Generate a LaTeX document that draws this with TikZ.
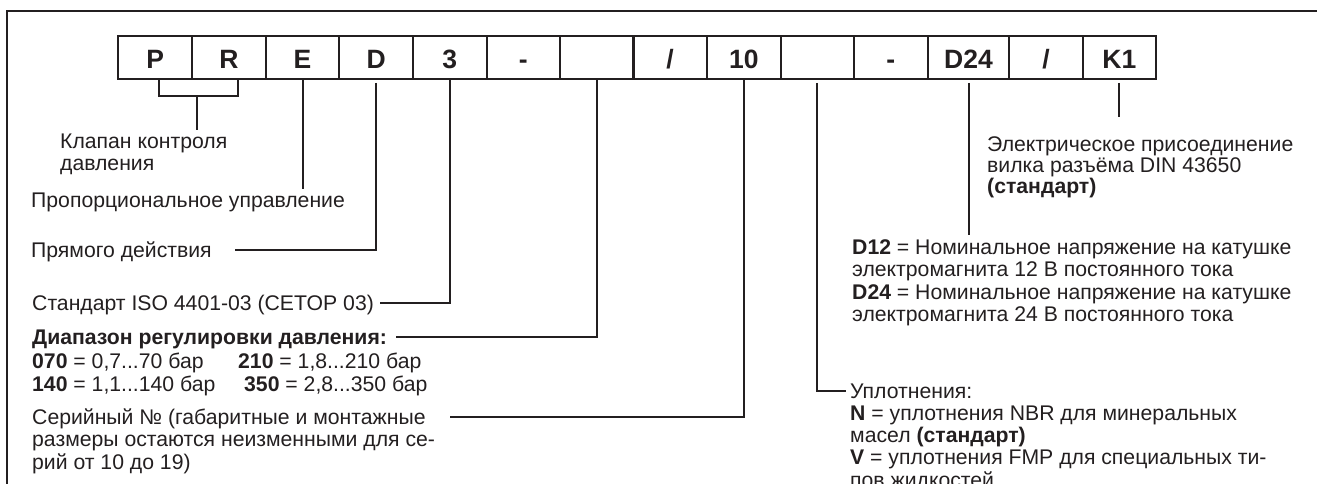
\documentclass[tikz,border=0pt]{standalone}
\usepackage{fontspec}
\setmainfont{Liberation Sans}
\definecolor{ink}{HTML}{231F20}
\begin{document}
\begin{tikzpicture}[x=1pt,y=-1pt,
  cell/.style={draw=ink,line width=2pt,minimum width=73.7pt,minimum height=43pt,inner sep=0pt,
    text height=21.6pt,text depth=0pt,font=\fontsize{26.5}{28}\selectfont\bfseries,text=ink},
  txt/.style={anchor=base west,inner sep=0pt,font=\fontsize{21.2}{22}\selectfont,text=ink},
  conn/.style={draw=ink,line width=2pt},
  frame/.style={draw=ink,line width=2.3pt}]
\useasboundingbox (0,0) rectangle (1317,484);
\clip (0,0) rectangle (1317,484);
\draw[frame] (7,500) -- (7,11) -- (1330,11);
% code boxes
\node[cell] (bP)   at (155.15,57.5) {P};
\node[cell] (bR)   at (228.85,57.5) {R};
\node[cell] (bE)   at (302.5,57.5) {E};
\node[cell] (bD)   at (376.15,57.5) {D};
\node[cell] (b3)   at (449.85,57.5) {3};
\node[cell] (bH1)  at (523.35,57.5) {-};
\node[cell] (bX1)  at (596.65,57.5) {};
\node[cell] (bS1)  at (670.15,57.5) {/};
\node[cell] (b10)  at (743.85,57.5) {10};
\node[cell] (bX2)  at (817.35,57.5) {};
\node[cell] (bH2)  at (890.85,57.5) {-};
\node[cell,minimum width=81.6pt] (bD24) at (968.5,57.5) {D24};
\node[cell] (bS2)  at (1046,57.5) {/};
\node[cell] (bK1)  at (1119.35,57.5) {K1};
% left texts
\node[txt] (tKl1) at (60,149) {Клапан контроля};
\node[txt] (tKl2) at (60,171) {давления};
\node[txt] (tProp) at (31,207) {Пропорциональное управление};
\node[txt] (tPr) at (31,257) {Прямого действия};
\node[txt] (tIso) at (32,310) {Стандарт ISO 4401-03 (CETOP 03)};
\node[txt] (tRng) at (32,344.5) {\textbf{Диапазон регулировки давления:}};
\node[txt] (tR1a) at (32,368) {\textbf{070} = 0,7...70 бар};
\node[txt] (tR1b) at (238,368) {\textbf{210} = 1,8...210 бар};
\node[txt] (tR2a) at (32,391) {\textbf{140} = 1,1...140 бар};
\node[txt] (tR2b) at (244,391) {\textbf{350} = 2,8...350 бар};
\node[txt] (tSer1) at (32,424) {Серийный № (габаритные и монтажные};
\node[txt] (tSer2) at (32,446.5) {размеры остаются неизменными для се-};
\node[txt] (tSer3) at (32,469) {рий от 10 до 19)};
% right texts
\node[txt] (tEl1) at (987,151) {Электрическое присоединение};
\node[txt] (tEl2) at (987,172) {вилка разъёма DIN 43650};
\node[txt] (tEl3) at (987,193) {\textbf{(стандарт)}};
\node[txt] (tV1) at (852,254) {\textbf{D12} = Номинальное напряжение на катушке};
\node[txt] (tV2) at (852,276.5) {электромагнита 12 В постоянного тока};
\node[txt] (tV3) at (852,299) {\textbf{D24} = Номинальное напряжение на катушке};
\node[txt] (tV4) at (852,321.5) {электромагнита 24 В постоянного тока};
\node[txt] (tU1) at (850,398) {Уплотнения:};
\node[txt] (tU2) at (850,420.3) {\textbf{N} = уплотнения NBR для минеральных};
\node[txt] (tU3) at (850,442.6) {масел \textbf{(стандарт)}};
\node[txt] (tU4) at (850,464.9) {\textbf{V} = уплотнения FMP для специальных ти-};
\node[txt] (tU5) at (850,487.2) {пов жидкостей};
% connector ends
\coordinate (brL) at (159,79);
\coordinate (brR) at (237.7,79);
\coordinate (brM) at (197,96);
\coordinate (eKl) at (197,130);
\coordinate (eE) at (302.5,189);
\coordinate (eD) at (235,249.5);
\coordinate (e3) at (380,302.7);
\coordinate (eRng) at (396,337);
\coordinate (eSer) at (450,416.5);
\coordinate (eU) at (846,390.6);
\coordinate (eV) at (968.5,235);
\coordinate (eK) at (1119.35,117);
% connectors
\draw[conn] (brL) -- ++(0,17) -| (brR);
\draw[conn] (brM) -- (eKl);
\draw[conn] (bE.south) -- (eE);
\draw[conn] ([yshift=-3pt]bD.south) |- (eD);
\draw[conn] (b3.south) |- (e3);
\draw[conn] (bX1.south) |- (eRng);
\draw[conn] (b10.south) |- (eSer);
\draw[conn] ([yshift=-3pt]bX2.south) |- (eU);
\draw[conn] ([yshift=-3pt]bD24.south) -- (eV);
\draw[conn] ([yshift=-3pt]bK1.south) -- (eK);
\end{tikzpicture}
\end{document}
